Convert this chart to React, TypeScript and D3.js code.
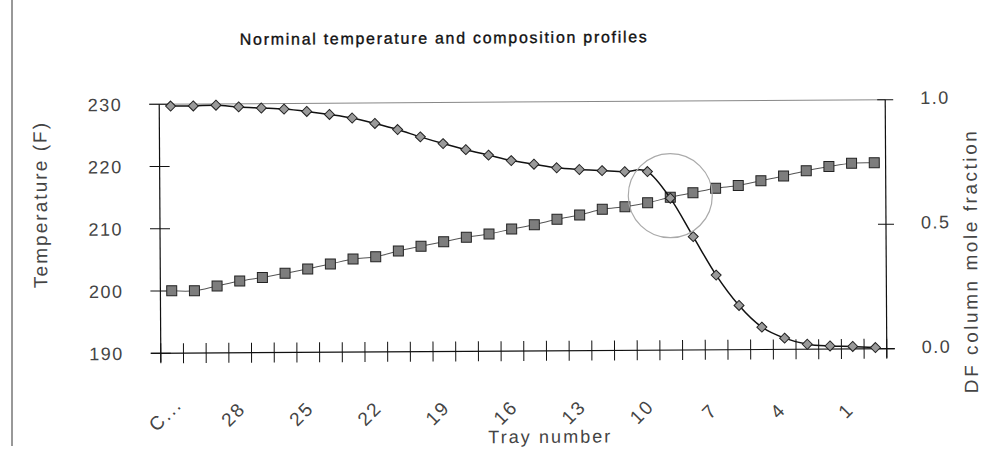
import React from "react";
import * as d3 from "d3";

// Stage labels, top of the column (condenser) down to the bottom stage
const categories = [
  "C...", "30", "29", "28", "27", "26", "25", "24", "23", "22", "21",
  "20", "19", "18", "17", "16", "15", "14", "13", "12", "11", "10",
  "9", "8", "7", "6", "5", "4", "3", "2", "1", "R...",
];

// Tray temperature (F), primary axis
const temperature = [
  229.7, 229.7, 229.8, 229.5, 229.3, 229.1, 228.7, 228.2, 227.6, 226.7, 225.7,
  224.5, 223.4, 222.4, 221.5, 220.6, 220.0, 219.4, 219.1, 218.9, 218.7, 218.7,
  214.4, 208.2, 202.0, 197.1, 193.6, 191.8, 190.8, 190.5, 190.4, 190.2,
];

// Mole fraction, secondary axis
const moleFraction = [
  0.251, 0.25, 0.269, 0.288, 0.302, 0.318, 0.335, 0.354, 0.374, 0.382, 0.405,
  0.423, 0.441, 0.458, 0.471, 0.49, 0.507, 0.528, 0.545, 0.567, 0.577, 0.592,
  0.614, 0.631, 0.649, 0.659, 0.678, 0.696, 0.717, 0.733, 0.746, 0.747,
];

const leftTicks = [190, 200, 210, 220, 230];
const rightTicks = [0, 0.5, 1];
const highlightStage = "9";
const highlightFraction = 0.62;

const W = 992;
const H = 475;
const box = { left: 160, right: 886, top: 102, bottom: 351 };
const font = "'Liberation Sans', Arial, sans-serif";
const textFill = "#444";

export default function App() {
  const x = d3.scaleBand<string>().domain(categories).range([box.left, box.right]).padding(0);
  const cx = (c: string) => (x(c) as number) + x.bandwidth() / 2;
  const yT = d3.scaleLinear().domain([190, 230]).range([box.bottom, box.top]);
  const yF = d3.scaleLinear().domain([0, 1]).range([box.bottom, box.top]);

  const curve = d3.curveCardinal.tension(0);
  const tempLine = d3
    .line<number>()
    .x((_, i) => cx(categories[i]))
    .y((d) => yT(d))
    .curve(curve);
  const fracLine = d3
    .line<number>()
    .x((_, i) => cx(categories[i]))
    .y((d) => yF(d))
    .curve(curve);

  const tickXs = categories.map((c) => x(c) as number).concat([box.right]);
  const tk = 9;

  return (
    <svg
      width={W}
      height={H}
      style={{ position: "absolute", left: 0, top: 0, display: "block", background: "#fff" }}
      fontFamily={font}
    >
      <rect width={W} height={H} fill="#fff" />
      <line x1={12} x2={12} y1={0} y2={446} stroke="#333" strokeWidth={1} />

      <g transform="rotate(-0.36 523 227)">
        <text
          x={241}
          y={43}
          fontSize={16}
          fill="#111"
          stroke="#111"
          strokeWidth={0.35}
          textLength={407}
          lengthAdjust="spacing"
        >
          Norminal temperature and composition profiles
        </text>

        {/* top border of the plot */}
        <line x1={box.left - 10} x2={box.right} y1={box.top} y2={box.top} stroke="#888" strokeWidth={1} />

        {/* left axis */}
        <line x1={box.left} x2={box.left} y1={box.top} y2={box.bottom + tk} stroke="#111" strokeWidth={1.2} />
        {leftTicks.map((t) => (
          <g key={"l" + t}>
            <line x1={box.left - 10} x2={box.left + 10} y1={yT(t)} y2={yT(t)} stroke="#111" strokeWidth={1} />
            <text
              x={123}
              y={yT(t)}
              dy="0.36em"
              textAnchor="end"
              fontSize={18}
              fill={textFill}
              letterSpacing={1.5}
            >
              {t}
            </text>
          </g>
        ))}
        <text
          transform={`translate(47,${(box.top + box.bottom) / 2 - 24}) rotate(-90)`}
          textAnchor="middle"
          fontSize={19}
          fill={textFill}
          textLength={165}
          lengthAdjust="spacing"
        >
          Temperature (F)
        </text>

        {/* right axis */}
        <line x1={box.right} x2={box.right} y1={box.top} y2={box.bottom + tk} stroke="#111" strokeWidth={1.2} />
        {rightTicks.map((t) => (
          <g key={"r" + t}>
            <line x1={box.right - 8} x2={box.right + 8} y1={yF(t)} y2={yF(t)} stroke="#111" strokeWidth={1} />
            <text x={921} y={yF(t) - 2} dy="0.36em" fontSize={18} fill={textFill} letterSpacing={1.5}>
              {d3.format(".1f")(t)}
            </text>
          </g>
        ))}
        <text
          transform={`translate(977,265) rotate(-90)`}
          textAnchor="middle"
          fontSize={19}
          fill={textFill}
          textLength={262}
          lengthAdjust="spacing"
        >
          DF column mole fraction
        </text>

        {/* category axis */}
        <line x1={box.left - 10} x2={box.right + 8} y1={box.bottom} y2={box.bottom} stroke="#111" strokeWidth={1.2} />
        {tickXs.map((tx, i) => (
          <line key={"t" + i} x1={tx} x2={tx} y1={box.bottom - 10} y2={box.bottom + 10} stroke="#111" strokeWidth={1} />
        ))}
        {categories.map((c, i) =>
          i % 3 === 0 ? (
            <text
              key={"c" + c}
              transform={`translate(${cx(c) - 2.5},${box.bottom + 66}) rotate(-45)`}
              textAnchor="middle"
              fontSize={19}
              fill={textFill}
              letterSpacing={2}
            >
              {c}
            </text>
          ) : null
        )}
        <text x={487} y={443} fontSize={18} fill={textFill} textLength={122} lengthAdjust="spacing">
          Tray number
        </text>

        {/* mole fraction profile */}
        <path d={fracLine(moleFraction) || ""} fill="none" stroke="#555" strokeWidth={1} />
        {moleFraction.map((v, i) => (
          <rect
            key={"s" + i}
            x={cx(categories[i]) - 5}
            y={yF(v) - 5}
            width={10}
            height={10}
            fill="#7d7d7d"
            stroke="#222"
            strokeWidth={1}
          />
        ))}

        {/* temperature profile */}
        <path d={tempLine(temperature) || ""} fill="none" stroke="#111" strokeWidth={1.5} />
        {temperature.map((v, i) => {
          const px = cx(categories[i]);
          const py = yT(v);
          return (
            <path
              key={"d" + i}
              d={`M${px},${py - 5}L${px + 5},${py}L${px},${py + 5}L${px - 5},${py}Z`}
              fill="#9a9a9a"
              stroke="#222"
              strokeWidth={1}
            />
          );
        })}

        {/* highlight around the temperature break */}
        <circle
          cx={cx(highlightStage)}
          cy={yF(highlightFraction)}
          r={42}
          fill="none"
          stroke="#aaa"
          strokeWidth={1.2}
        />
      </g>
    </svg>
  );
}
